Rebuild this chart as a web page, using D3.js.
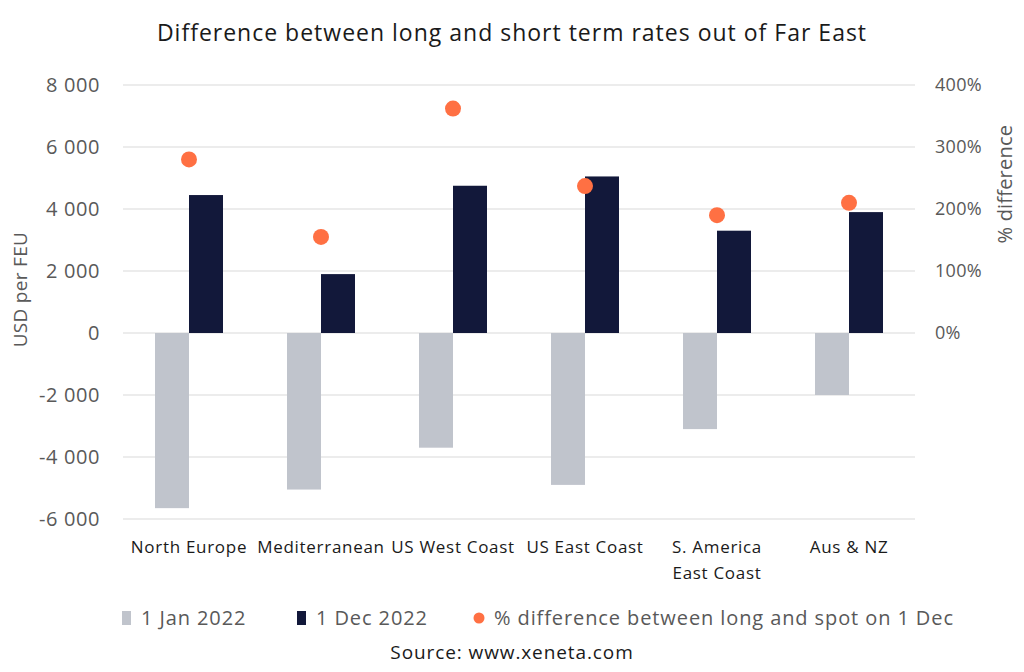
<!DOCTYPE html>
<html>
<head>
<meta charset="utf-8">
<script src="https://cdn.jsdelivr.net/npm/d3@7"></script>
<style>
  html, body { margin: 0; padding: 0; background: #fff; }
  #chart { width: 1024px; height: 672px; }
  text { font-family: "Open Sans", "Noto Sans", sans-serif; }
</style>
</head>
<body>
<div id="chart"></div>
<script>
// Difference between long and short term rates out of Far East
(function () {
  ///////////////////////////////////////////////////////////// ! Data
  const categories = [
    ["North Europe"],
    ["Mediterranean"],
    ["US West Coast"],
    ["US East Coast"],
    ["S. America", "East Coast"],
    ["Aus & NZ"],
  ];
  const jan2022 = [-5650, -5050, -3700, -4900, -3100, -2000];
  const dec2022 = [4450, 1900, 4750, 5050, 3300, 3900];
  const pctDiff = [280, 155, 362, 237, 190, 210];

  const leftTicks = [-6000, -4000, -2000, 0, 2000, 4000, 6000, 8000];
  const rightTicks = [0, 100, 200, 300, 400];

  const seriesNames = ["1 Jan 2022", "1 Dec 2022", "% difference between long and spot on 1 Dec"];
  const colors = { jan: "#c0c4cc", dec: "#12183a", dot: "#ff7043" };

  ///////////////////////////////////////////////////////////// ! Setup
  const fullWidth = 1024;
  const fullHeight = 672;
  const margin = { top: 85, right: 109, bottom: 153, left: 123 };
  const width = fullWidth - margin.left - margin.right;
  const height = fullHeight - margin.top - margin.bottom;

  const root = d3
    .select("#chart")
    .append("svg")
    .attr("width", fullWidth)
    .attr("height", fullHeight)
    .style("display", "block");

  const svg = root
    .append("g")
    .attr("transform", `translate(${margin.left},${margin.top})`);

  ///////////////////////////////////////////////////////////// ! Scales
  const x = d3
    .scaleBand()
    .domain(d3.range(categories.length))
    .range([0, width]);

  const y = d3.scaleLinear().domain([-6000, 8000]).range([height, 0]);
  // right axis: 400% lines up with 8 000
  const y2 = d3.scaleLinear().domain([-300, 400]).range([height, 0]);

  const barW = 34;

  ///////////////////////////////////////////////////////////// ! Gridlines + axes
  svg
    .append("g")
    .selectAll("line")
    .data(leftTicks)
    .enter()
    .append("line")
    .attr("x1", 0)
    .attr("x2", width)
    .attr("y1", (d) => y(d))
    .attr("y2", (d) => y(d))
    .style("stroke", "#d9d9d9")
    .style("stroke-width", 1);

  const leftAxis = svg
    .append("g")
    .call(
      d3
        .axisLeft(y)
        .tickValues(leftTicks)
        .tickSize(0)
        .tickPadding(23)
        .tickFormat((d) => (d < 0 ? "-" : "") + d3.format(",")(Math.abs(d)).replace(/,/g, " "))
    );
  leftAxis.select(".domain").remove();
  leftAxis
    .selectAll("text")
    .style("font-size", "20px")
    .style("letter-spacing", "0.6px")
    .style("fill", "#595959")
    .style("font-family", "'Open Sans', sans-serif");

  const rightAxis = svg
    .append("g")
    .attr("transform", `translate(${width},0)`)
    .call(d3.axisRight(y2).tickValues(rightTicks).tickSize(0).tickPadding(20).tickFormat((d) => d + "%"));
  rightAxis.select(".domain").remove();
  rightAxis
    .selectAll("text")
    .style("font-size", "18px")
    .style("letter-spacing", "0.3px")
    .style("fill", "#595959")
    .style("font-family", "'Open Sans', sans-serif");

  // axis titles
  svg
    .append("text")
    .attr("transform", "rotate(-90)")
    .attr("x", -y(1400))
    .attr("y", -96)
    .style("text-anchor", "middle")
    .style("font-size", "19px")
    .style("letter-spacing", "0.3px")
    .style("fill", "#595959")
    .text("USD per FEU");

  svg
    .append("text")
    .attr("transform", "rotate(-90)")
    .attr("x", -y2(240))
    .attr("y", width + 97)
    .style("text-anchor", "middle")
    .style("font-size", "20px")
    .style("letter-spacing", "0.2px")
    .style("fill", "#595959")
    .text("% difference");

  ///////////////////////////////////////////////////////////// ! Bars
  const cx = (i) => x(i) + x.bandwidth() / 2;

  svg
    .selectAll(".bar-jan")
    .data(jan2022)
    .enter()
    .append("rect")
    .attr("class", "bar-jan")
    .attr("x", (d, i) => cx(i) - barW)
    .attr("width", barW)
    .attr("y", (d) => Math.min(y(d), y(0)))
    .attr("height", (d) => Math.abs(y(d) - y(0)))
    .style("fill", colors.jan);

  svg
    .selectAll(".bar-dec")
    .data(dec2022)
    .enter()
    .append("rect")
    .attr("class", "bar-dec")
    .attr("x", (d, i) => cx(i))
    .attr("width", barW)
    .attr("y", (d) => Math.min(y(d), y(0)))
    .attr("height", (d) => Math.abs(y(d) - y(0)))
    .style("fill", colors.dec);

  ///////////////////////////////////////////////////////////// ! Dots
  svg
    .selectAll(".dot")
    .data(pctDiff)
    .enter()
    .append("circle")
    .attr("class", "dot")
    .attr("cx", (d, i) => cx(i))
    .attr("cy", (d) => y2(d))
    .attr("r", 8)
    .style("fill", colors.dot);

  ///////////////////////////////////////////////////////////// ! Category labels
  const catLabels = svg
    .selectAll(".cat")
    .data(categories)
    .enter()
    .append("text")
    .attr("class", "cat")
    .attr("x", (d, i) => cx(i))
    .attr("y", height + 34)
    .style("text-anchor", "middle")
    .style("font-size", "17px")
    .style("letter-spacing", "0.7px")
    .style("fill", "#1a1a1a");

  catLabels
    .selectAll("tspan")
    .data((d) => d)
    .enter()
    .append("tspan")
    .attr("x", function () {
      return d3.select(this.parentNode).attr("x");
    })
    .attr("dy", (d, i) => (i === 0 ? 0 : 26))
    .text((d) => d);

  ///////////////////////////////////////////////////////////// ! Title
  root
    .append("text")
    .attr("x", fullWidth / 2)
    .attr("y", 41)
    .style("text-anchor", "middle")
    .style("font-size", "23px")
    .style("letter-spacing", "1px")
    .style("fill", "#1a1a1a")
    .text("Difference between long and short term rates out of Far East");

  ///////////////////////////////////////////////////////////// ! Legend
  const legend = root.append("g").attr("transform", "translate(0,618)");
  const legendX = [122, 297, 474];

  legend
    .append("rect")
    .attr("x", legendX[0])
    .attr("y", -7)
    .attr("width", 9)
    .attr("height", 14)
    .style("fill", colors.jan);
  legend
    .append("rect")
    .attr("x", legendX[1])
    .attr("y", -7)
    .attr("width", 9)
    .attr("height", 14)
    .style("fill", colors.dec);
  legend
    .append("circle")
    .attr("cx", legendX[2] + 5)
    .attr("cy", 0)
    .attr("r", 5.5)
    .style("fill", colors.dot);

  legend
    .selectAll(".leg-text")
    .data(seriesNames)
    .enter()
    .append("text")
    .attr("class", "leg-text")
    .attr("x", (d, i) => legendX[i] + (i === 2 ? 20 : 19))
    .attr("y", 0)
    .attr("dy", "0.35em")
    .style("font-size", "20px")
    .style("letter-spacing", "0.9px")
    .style("fill", "#595959")
    .text((d) => d);

  ///////////////////////////////////////////////////////////// ! Source
  root
    .append("text")
    .attr("x", fullWidth / 2)
    .attr("y", 659)
    .style("text-anchor", "middle")
    .style("font-size", "19px")
    .style("letter-spacing", "0.9px")
    .style("fill", "#1a1a1a")
    .text("Source: www.xeneta.com");
})();
</script>
</body>
</html>
